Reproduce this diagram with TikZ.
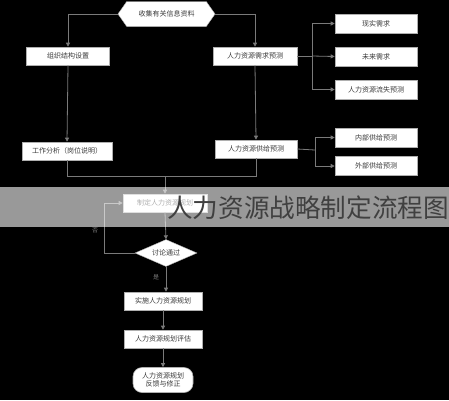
\documentclass[tikz,border=0pt]{standalone}
\usepackage{fontspec}
\setmainfont{Noto Sans CJK SC}
\usetikzlibrary{shapes.geometric,shapes.symbols,arrows.meta}
\definecolor{linec}{HTML}{7A7A7A}
\definecolor{txtc}{HTML}{3A3A3A}
\tikzset{
  box/.style={draw=linec!60, fill=white, line width=0.6pt, minimum height=18pt, inner sep=1pt, text=txtc, font=\fontsize{7}{8}\selectfont},
  hexbox/.style={shape=signal, signal to=west and east, signal pointer angle=110, draw=linec!60, fill=white, minimum height=25pt, minimum width=97pt, inner sep=1pt, text=txtc, font=\fontsize{7}{8}\selectfont},
  dia/.style={shape=diamond, draw=linec!60, fill=white, minimum width=62pt, minimum height=27pt, inner sep=0pt, aspect=2.3, text=txtc, font=\fontsize{7}{8}\selectfont},
  endbox/.style={box, rounded corners=9pt, minimum height=25pt, align=center, font=\fontsize{7}{8.5}\selectfont},
  conn/.style={draw=linec, line width=0.8pt},
  arr/.style={conn, -{Triangle[length=4pt,width=4pt]}},
  lbl/.style={text=linec, font=\fontsize{6}{7}\selectfont, inner sep=0pt}
}
\begin{document}
\begin{tikzpicture}[x=1pt,y=-1pt]
\fill[black] (0,0) rectangle (449,400);
\useasboundingbox (0,0) rectangle (449,400);

\node[hexbox] (hex) at (166.5,14) {收集有关信息资料};
\node[box, minimum width=83pt] (L1) at (68,56) {组织结构设置};
\node[box, minimum width=84pt] (R1) at (255,56) {人力资源需求预测};
\node[box, minimum width=82pt, minimum height=19pt] (RR1) at (376,23.5) {现实需求};
\node[box, minimum width=82pt, minimum height=19pt] (RR2) at (376,56.5) {未来需求};
\node[box, minimum width=82pt, minimum height=19pt] (RR3) at (376,89.5) {人力资源流失预测};
\node[box, minimum width=90pt] (L2) at (67,151) {工作分析（岗位说明）};
\node[box, minimum width=82pt] (R2) at (256,149) {人力资源供给预测};
\node[box, minimum width=82pt, minimum height=19pt] (RR4) at (376,137.5) {内部供给预测};
\node[box, minimum width=82pt, minimum height=19pt] (RR5) at (376,166) {外部供给预测};
\node[box, minimum width=84pt] (C1) at (165,203) {制定人力资源规划};
\node[dia] (D) at (166,253) {讨论通过};
\node[box, minimum width=78pt] (C2) at (163,301) {实施人力资源规划};
\node[box, minimum width=78pt] (C3) at (163,339) {人力资源规划评估};
\node[endbox, minimum width=60pt] (C4) at (163,380) {人力资源规划\\反馈与修正};

\coordinate (b1) at (312,56);
\coordinate (b2) at (315,150);
\coordinate (m) at (165,176);
\coordinate (lp) at (104,253);

\draw[arr] (hex.west) -| (L1.north);
\draw[arr] (hex.east) -| (R1.north);
\draw[conn] (R1.east) -- (b1);
\draw[arr] (b1) |- (RR1.west);
\draw[arr] (b1) -- (RR2.west);
\draw[arr] (b1) |- (RR3.west);
\draw[arr] (L1.south) -- (L2.north);
\draw[arr] (R1.south) -- (R2.north);
\draw[conn] (R2.east) -- (b2);
\draw[arr] (b2) |- (RR4.west);
\draw[arr] (b2) |- (RR5.west);
\draw[conn] (L2.south) |- (m);
\draw[conn] (R2.south) |- (m);
\draw[arr] (m) -- (C1.north);
\draw[arr] (C1.south) -- (D.north);
\draw[conn] (D.west) -- (lp);
\draw[arr] (lp) |- (C1.west);
\node[lbl] (no) at (95,230) {否};
\draw[arr] (D.south) -- (C2.north -| D.south);
\node[lbl] (yes) at (156,277) {是};
\draw[arr] (C2.south) -- (C3.north);
\draw[arr] (C3.south) -- (C4.north);

\fill[white, opacity=0.6] (0,187) rectangle (449,227);
\node[anchor=west, inner sep=0pt, text=black!75, font=\fontsize{25.6}{27}\selectfont] (title) at (167,208) {人力资源战略制定流程图};
\end{tikzpicture}
\end{document}
